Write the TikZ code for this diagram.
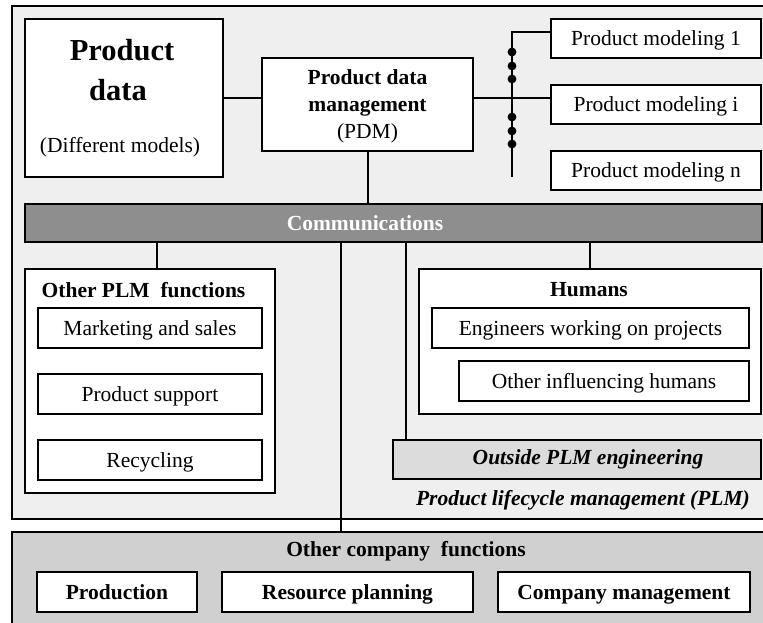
\documentclass[tikz,border=0pt]{standalone}
\usepackage{fontspec}
\setmainfont{Liberation Serif}
\usepackage{xcolor}
\usetikzlibrary{positioning, calc}
\definecolor{plmgray}{HTML}{EFEFEF}
\definecolor{commgray}{HTML}{8E8E8E}
\definecolor{outgray}{HTML}{DCDCDC}
\definecolor{compgray}{HTML}{D0D0D0}
\tikzset{
    box/.style={
        draw=black,
        line width=1.8pt,
        fill=white,
        inner sep=0pt,
        text height=14pt,
        text depth=0pt,
        font=\fontsize{21.5}{26}\selectfont,
    },
    label/.style={
        inner sep=0pt,
        font=\fontsize{21.5}{26}\selectfont\bfseries,
    },
    wire/.style={
        line width=2pt,
    },
}

\begin{document}
\begin{tikzpicture}[x=1pt, y=-1pt]
      \useasboundingbox (0,0) rectangle (763,622);
      \clip (0,0) rectangle (763,622);

      \node[box, fill=plmgray, minimum width=758, minimum height=513] (plm) at (391,262.5) {};
      \node[box, fill=compgray, minimum width=758, minimum height=108] (company) at (391,586) {};

      \node[box, minimum width=198, minimum height=158] (pdata) at (124,98) {};
      \node[label, font=\fontsize{30.5}{34}\selectfont\bfseries] (pdtitle) at (122,50) {Product};
      \node[label, font=\fontsize{30.5}{34}\selectfont\bfseries] (pdtitle2) at (118,90) {data};
      \node[label, font=\fontsize{21.5}{26}\selectfont] (pdnote) at (120,147) {(Different models)};

      \node[box, minimum width=211, minimum height=93, align=center, text height=68pt,
            font=\fontsize{21.5}{27}\selectfont] (pdm) at (367.5,104.5)
            {\textbf{Product data}\\ \textbf{management}\\ (PDM)};

      \node[box, minimum width=210, minimum height=39] (pm1) at (656,38.5) {Product modeling 1};
      \node[box, minimum width=210, minimum height=39] (pmi) at (656,104.5) {Product modeling i};
      \node[box, minimum width=210, minimum height=39] (pmn) at (656,170.5) {Product modeling n};

      \node[box, fill=commgray, minimum width=737, minimum height=38] (comm) at (393.5,223) {};
      \node[label, text=white] (commtext) at (365,223) {Communications};

      \node[box, minimum width=250, minimum height=224] (other) at (150,381) {};
      \node[label] (othertitle) at (143.5,290) {Other PLM\ \ functions};
      \node[box, minimum width=224, minimum height=40] (mkt) at (150,328) {Marketing and sales};
      \node[box, minimum width=224, minimum height=40] (sup) at (150,394) {Product support};
      \node[box, minimum width=224, minimum height=40] (rec) at (150,460) {Recycling};

      \node[box, minimum width=342, minimum height=145] (humans) at (590,341.5) {};
      \node[label] (humtitle) at (589,290) {Humans};
      \node[box, minimum width=317, minimum height=40] (eng) at (590.5,328) {Engineers working on projects};
      \node[box, minimum width=290, minimum height=40] (infl) at (604,381) {Other influencing humans};

      \node[box, fill=outgray, minimum width=368, minimum height=39] (outside) at (577,459.5) {};
      \node[label, font=\fontsize{21.5}{26}\selectfont\bfseries\itshape] (outtext) at (588,459.5) {Outside PLM engineering};
      \node[label, font=\fontsize{21.5}{26}\selectfont\bfseries\itshape, anchor=east] (plmtext) at (750,500) {Product lifecycle management (PLM)};

      \node[label] (comptitle) at (406,551) {Other company\ \ functions};
      \node[box, minimum width=160, minimum height=40, font=\fontsize{21.5}{26}\selectfont\bfseries] (prod) at (117,592) {Production};
      \node[box, minimum width=251, minimum height=40, font=\fontsize{21.5}{26}\selectfont\bfseries] (res) at (347.5,592) {Resource planning};
      \node[box, minimum width=252, minimum height=40, font=\fontsize{21.5}{26}\selectfont\bfseries] (mgmt) at (624,592) {Company management};

      % bus to the product models
      \coordinate (bustop) at (512,32);
      \coordinate (busbot) at (512,177);
      \draw[wire] (pdata.east) -- (pdata.east -| pdm.west);
      \draw[wire] (pdm.east |- pdata.east) -- (pmi.west |- pdata.east);
      \draw[wire] (bustop -| pm1.west) -- (bustop) -- (busbot);
      \foreach \y in {52,66,79,117,131,144}
        \fill (512,\y) circle (4.4pt);

      % links to the communications bar
      \coordinate (tap) at (341,380);
      \draw[wire] (pdm.south) -- (pdm.south |- comm.north);
      \draw[wire] ([xshift=7pt]other.north) -- ([xshift=7pt]other.north |- comm.south);
      \draw[wire] (humans.north) -- (humans.north |- comm.south);
      \draw[wire] ([xshift=14pt]outside.north west) -- ([xshift=14pt]outside.north west |- comm.south);
      \draw[wire] (tap |- comm.south) -- (tap |- company.north);

\end{tikzpicture}
\end{document}
